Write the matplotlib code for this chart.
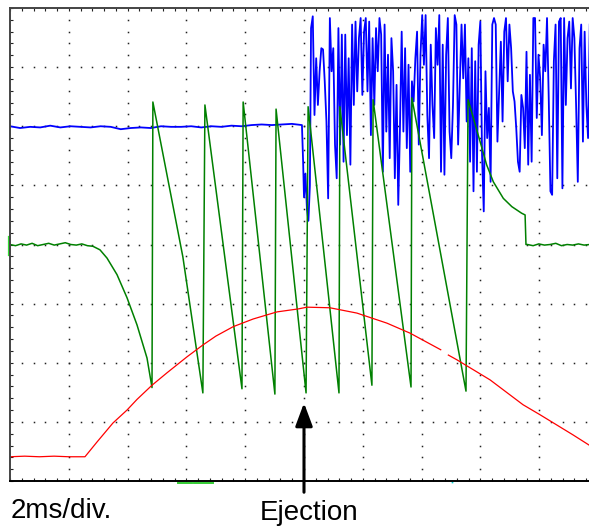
import numpy as np
import matplotlib.pyplot as plt
from matplotlib.ticker import MultipleLocator

plt.rcParams["font.family"] = ["Liberation Sans", "DejaVu Sans"]

# time in ms (2 ms/div, 10 div), amplitude in screen divisions (8 div)
blue_flat = [6.00, 5.97, 5.99, 5.98, 6.01, 5.98, 6.00, 5.99, 5.98, 6.00,
             5.99, 5.95, 5.97, 5.98, 5.97, 6.00, 5.99, 5.99, 6.00, 5.98,
             6.00, 5.99, 6.01, 6.00, 6.02, 6.03, 6.02, 6.03, 6.04, 6.02]
blue_flat_end = 9.93
blue_drop_t = [9.97, 10.00, 10.05, 10.10, 10.15, 10.20]
blue_drop_v = [5.40, 4.80, 5.20, 4.60, 4.40, 5.00]
blue_burst = [7.66, 7.86, 6.19, 7.15, 6.36, 6.93, 7.32, 7.30, 6.76, 6.08,
              4.78, 7.83, 6.93, 7.32, 5.69, 5.12, 7.66, 5.69, 7.55, 5.40,
              7.55, 5.85, 7.15, 5.35, 7.72, 6.36, 7.77, 6.59, 7.49, 7.83,
              6.53, 7.60, 7.83, 6.59, 7.77, 5.85, 7.49, 6.36, 7.66, 6.93,
              7.83, 7.55, 5.23, 7.72, 5.91, 7.21, 5.46, 7.49, 6.93, 5.12,
              6.70, 4.67, 5.97, 7.60, 5.91, 7.32, 5.63, 7.04, 5.23, 6.76,
              6.42, 7.15, 7.60, 5.69, 7.21, 7.88, 7.04, 7.88, 6.19, 5.46,
              7.38, 6.36, 5.80, 7.66, 7.04, 7.88, 5.23, 7.38,
              5.18, 7.21, 7.83, 5.91, 5.46, 6.36, 7.88, 7.72, 5.69, 6.70,
              7.72, 6.81, 7.72, 6.08, 7.15, 5.40, 7.32, 4.90, 7.10, 5.23,
              7.38, 7.77, 5.52, 4.56, 6.93, 5.80, 6.31, 5.06, 7.72, 7.83,
              7.72, 5.74, 6.59, 7.43, 6.08, 7.60, 7.83, 6.76, 7.72, 7.32,
              6.59, 6.42, 5.97, 5.40, 5.23, 6.53, 6.31, 5.63, 7.26, 5.35,
              6.87, 5.40, 7.83, 7.83, 6.14, 7.21, 6.81, 5.85, 7.38, 6.93,
              7.83, 6.48, 4.90, 4.84, 7.10, 7.72, 5.12, 7.77, 7.83, 4.95,
              7.83, 6.36, 7.49, 7.77, 6.64, 7.83, 7.49, 6.36, 5.06, 7.32,
              7.72, 5.74, 7.60, 6.36, 5.80, 7.72]
blue_burst_span = (10.24, 19.72)

green_start = [4.00, 3.98, 4.01, 3.99, 4.02, 3.98, 4.00, 4.02, 3.99, 4.01,
               4.03, 4.00, 3.99, 4.01, 3.98, 3.97]
green_start_end = 2.82
green_knee_t = [3.06, 3.30, 3.64, 3.98, 4.32, 4.66, 4.83]
green_knee_v = [3.91, 3.77, 3.49, 3.10, 2.64, 2.08, 1.58]
green_teeth = [
    [(4.86, 6.41), (5.88, 3.79), (6.56, 1.49)],
    [(6.63, 6.36), (7.89, 1.56)],
    [(7.93, 6.41), (9.01, 1.47)],
    [(9.05, 6.29), (10.07, 1.49)],
    [(10.14, 6.33), (11.19, 1.49)],
    [(11.22, 6.33), (12.31, 1.62)],
    [(12.35, 6.45), (13.64, 1.59)],
    [(13.67, 6.48), (15.51, 1.52)],
    [(15.58, 6.45), (15.76, 6.14), (15.99, 5.74), (16.21, 5.35), (16.44, 5.06),
     (16.78, 4.78), (17.07, 4.64), (17.40, 4.53), (17.52, 4.50), (17.55, 4.00)],
]
green_end = [4.00, 3.98, 4.01, 3.99, 4.00, 4.02, 3.98, 4.00, 3.99, 4.01, 3.99, 4.00]
green_end_span = (17.60, 19.72)

red_t = [0.0, 0.5, 1.0, 1.5, 2.0, 2.55, 2.96, 3.50, 3.98, 4.32,
         4.83, 5.34, 6.02, 6.56, 7.00, 7.59, 8.27, 9.08, 9.80,
         10.10, 10.88, 11.80, 12.82, 13.61, 14.65, 14.78, 14.91, 15.20, 16.33,
         17.45, 18.03, 19.15, 19.72]
red_v = [0.41, 0.42, 0.41, 0.42, 0.41, 0.41, 0.66, 0.98, 1.20, 1.38,
         1.62, 1.83, 2.10, 2.30, 2.45, 2.61, 2.74, 2.86, 2.91,
         2.94, 2.93, 2.84, 2.67, 2.50, 2.22, np.nan, 2.13, 2.05, 1.71,
         1.29, 1.12, 0.78, 0.60]

ejection_t = 10.0
ejection_level = 1.32

# assemble traces
b_t = np.concatenate([np.linspace(0, blue_flat_end, len(blue_flat)), blue_drop_t,
                      np.linspace(*blue_burst_span, len(blue_burst))])
b_v = np.concatenate([blue_flat, blue_drop_v, blue_burst])

g_t = list(np.linspace(0, green_start_end, len(green_start))) + green_knee_t
g_v = list(green_start) + green_knee_v
for tooth in green_teeth:
    for t, v in tooth:
        g_t.append(t)
        g_v.append(v)
g_t += list(np.linspace(*green_end_span, len(green_end)))
g_v += green_end

fig = plt.figure(figsize=(5.89, 5.27), dpi=100)
ax = fig.add_axes([10 / 589, 46 / 527, 588 / 589, 473 / 527])
ax.set_xlim(0, 20)
ax.set_ylim(0, 8)

# dotted graticule
for gx in np.arange(2, 20, 2):
    ys = np.arange(0.2, 8, 0.2)
    ax.plot(np.full_like(ys, gx), ys, ls="none", marker="s", ms=1.1, mew=0, color="#222222")
for gy in np.arange(1, 8, 1):
    xs = np.arange(0.4, 20, 0.4)
    ax.plot(xs, np.full_like(xs, gy), ls="none", marker="s", ms=1.1, mew=0, color="#222222")

ax.xaxis.set_major_locator(MultipleLocator(0.4))
ax.yaxis.set_major_locator(MultipleLocator(0.2))
ax.tick_params(direction="in", length=2.5, width=0.8, top=True, right=False,
               labelbottom=False, labelleft=False, color="#222222")
for side in ["left", "top", "bottom"]:
    ax.spines[side].set_linewidth(1.4)
ax.spines["left"].set_color("#444444")
ax.spines["top"].set_color("#444444")
ax.spines["right"].set_visible(False)

ax.plot(b_t, b_v, color="#0000FF", lw=1.3)
ax.plot(g_t, g_v, color="#008000", lw=1.1)
ax.plot(red_t, red_v, color="#FF0000", lw=0.9)

# channel / trigger markers on the frame
ax.plot([-0.05, -0.05], [3.83, 4.12], color="#33DD33", lw=1.6, clip_on=False)
ax.plot([5.71, 6.19], [-0.03, -0.03], color="#33CC33", lw=1.4, clip_on=False)
ax.plot([6.26, 6.90], [-0.03, -0.03], color="#33CC33", lw=1.4, clip_on=False)
ax.plot([15.03], [-0.02], ls="none", marker="s", ms=1.2, mew=0, color="#00CCCC", clip_on=False)

ax.annotate("", xy=(ejection_t, ejection_level), xytext=(ejection_t, -0.19),
            arrowprops=dict(arrowstyle="-|>,head_length=14,head_width=5.2",
                            mutation_scale=1, lw=2.2, color="black",
                            shrinkA=0, shrinkB=0),
            annotation_clip=False)

fig.text(11 / 589, (527 - 518.5) / 527, "2ms/div.", fontsize=20,
         ha="left", va="baseline")
fig.text(309.5 / 589, (527 - 520.5) / 527, "Ejection", fontsize=20,
         ha="center", va="baseline")

fig.savefig("out.png", dpi=100)
